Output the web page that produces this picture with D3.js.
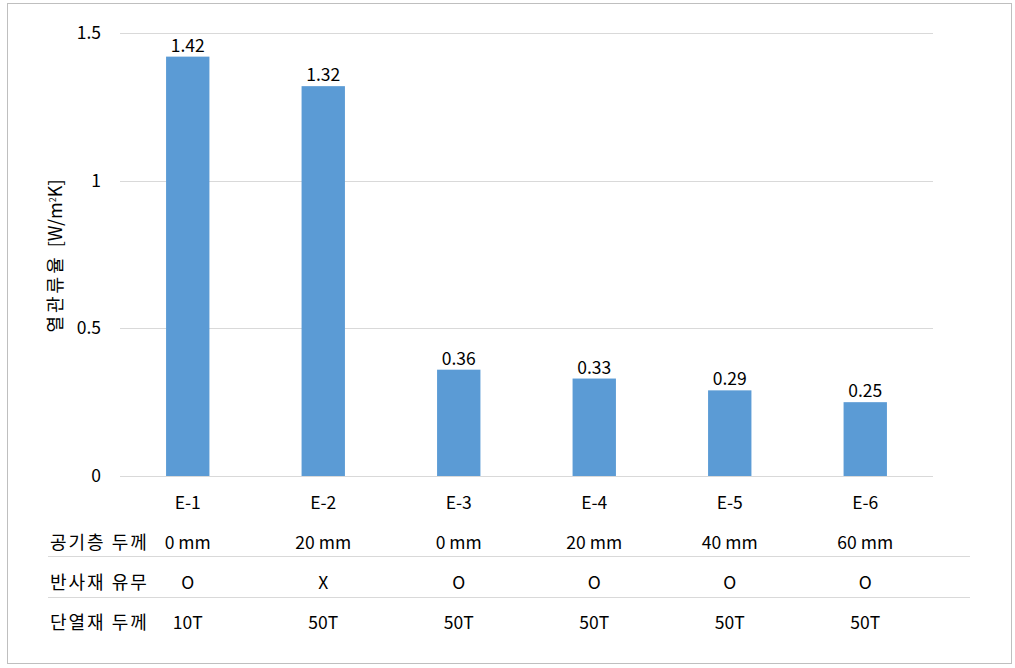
<!DOCTYPE html>
<head>
  <meta charset="utf-8">
  <script src="https://d3js.org/d3.v7.min.js"></script>
  <style>
  body { margin: 0; background: #fff; }
  text { font-family: "Noto Sans CJK KR", "Noto Sans", sans-serif; fill: #000; font-size: 17.5px; }
  .grid line { stroke: #d9d9d9; stroke-width: 1px; }
  .bar { fill: #5b9bd5; }
  </style>
</head>
<body>
<svg width="1015" height="668"></svg>

<script type="text/javascript">
// chart values
var categories = ["E-1", "E-2", "E-3", "E-4", "E-5", "E-6"];
var uValues = [1.42, 1.32, 0.36, 0.33, 0.29, 0.25];
var yTicks = [0, 0.5, 1, 1.5];

// table rows under the axis
var rowLabels = ["공기층 두께", "반사재 유무", "단열재 두께"];
var airGap = ["0 mm", "20 mm", "0 mm", "20 mm", "40 mm", "60 mm"];
var reflector = ["O", "X", "O", "O", "O", "O"];
var insulation = ["10T", "50T", "50T", "50T", "50T", "50T"];
var tableRows = [airGap, reflector, insulation];

var svg = d3.select("svg");

// outer frame
svg.append("rect")
    .attr("x", 7.5).attr("y", 3.5)
    .attr("width", 1004).attr("height", 660)
    .attr("fill", "#fff")
    .attr("stroke", "#bfbfbf");

var plotLeft = 120, plotRight = 933, plotTop = 33, plotBottom = 476;

var x = d3.scaleBand()
    .domain(categories)
    .range([plotLeft, plotRight])
    .paddingInner(0.68)
    .paddingOuter(0.34);

var y = d3.scaleLinear()
    .domain([0, 1.5])
    .range([plotBottom, plotTop]);

// gridlines
svg.append("g")
    .attr("class", "grid")
    .selectAll("line")
    .data(yTicks)
    .enter().append("line")
    .attr("x1", plotLeft).attr("x2", plotRight)
    .attr("y1", function(d) { return Math.round(y(d)) + 0.5; })
    .attr("y2", function(d) { return Math.round(y(d)) + 0.5; });

// y tick labels
svg.append("g")
    .selectAll("text")
    .data(yTicks)
    .enter().append("text")
    .attr("x", 101)
    .attr("y", function(d) { return y(d); })
    .attr("dy", "0.35em")
    .attr("text-anchor", "end")
    .text(function(d) { return d; });

// y axis title
svg.append("text")
    .attr("transform", "translate(62," + 256 + ") rotate(-90)")
    .attr("text-anchor", "middle")
    .style("font-size", "18px")
    .html("<tspan style='letter-spacing:3px'>열관류율 </tspan>[W/m<tspan baseline-shift='super' font-size='9px'>2</tspan>K]");

// bars
svg.append("g")
    .selectAll("rect")
    .data(uValues)
    .enter().append("rect")
    .attr("class", "bar")
    .attr("x", function(d, i) { return x(categories[i]); })
    .attr("width", x.bandwidth())
    .attr("y", function(d) { return y(d); })
    .attr("height", function(d) { return y(0) - y(d); });

// value labels
svg.append("g")
    .selectAll("text")
    .data(uValues)
    .enter().append("text")
    .attr("x", function(d, i) { return x(categories[i]) + x.bandwidth() / 2; })
    .attr("y", function(d) { return y(d) - 5; })
    .attr("text-anchor", "middle")
    .text(function(d) { return d.toFixed(2); });

// category labels
svg.append("g")
    .selectAll("text")
    .data(categories)
    .enter().append("text")
    .attr("x", function(d) { return x(d) + x.bandwidth() / 2; })
    .attr("y", 503)
    .attr("dy", "0.35em")
    .attr("text-anchor", "middle")
    .text(function(d) { return d; });

// table
var rowY = [543, 583, 623];
var sepY = [556, 597];

svg.append("g")
    .selectAll("line")
    .data(sepY)
    .enter().append("line")
    .attr("x1", 48).attr("x2", 970)
    .attr("y1", function(d) { return d + 0.5; })
    .attr("y2", function(d) { return d + 0.5; })
    .attr("stroke", "#d9d9d9");

svg.append("g")
    .selectAll("text")
    .data(rowLabels)
    .enter().append("text")
    .attr("x", 50)
    .attr("y", function(d, i) { return rowY[i]; })
    .attr("dy", "0.35em")
    .style("font-size", "18px")
    .style("letter-spacing", "2px")
    .text(function(d) { return d; });

tableRows.forEach(function(row, r) {
  svg.append("g")
    .selectAll("text")
    .data(row)
    .enter().append("text")
    .attr("x", function(d, i) { return x(categories[i]) + x.bandwidth() / 2; })
    .attr("y", rowY[r])
    .attr("dy", "0.35em")
    .attr("text-anchor", "middle")
    .text(function(d) { return d; });
});
</script>
</body>
</html>
